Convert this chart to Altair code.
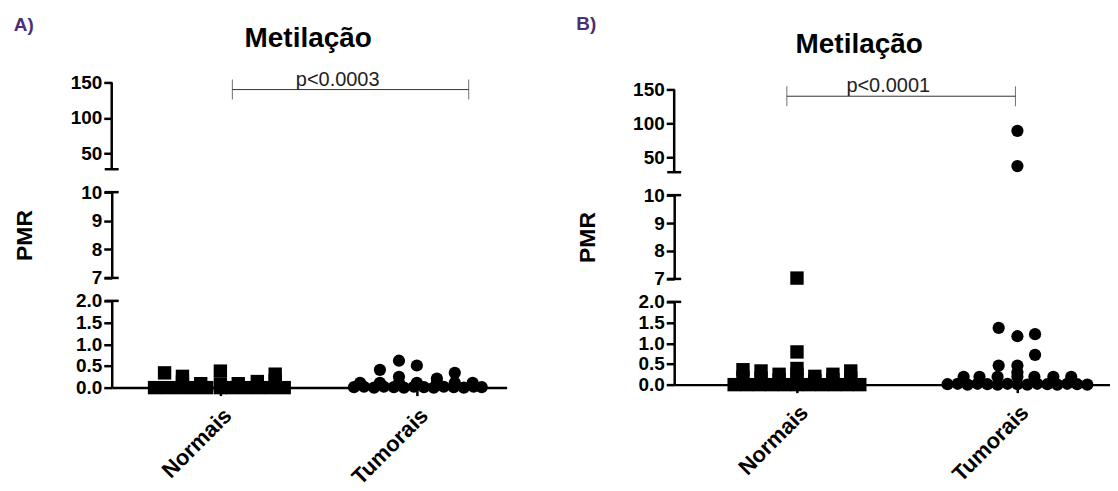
import altair as alt
import pandas as pd

# ---------------- data ----------------
# x = category position (1 = Normais, 2 = Tumorais) + horizontal scatter offset
# Panel A
a_norm_x = [0.665, 0.731, 0.797, 0.863, 0.929, 1.0, 1.061, 1.127, 1.193, 1.259, 1.325,
            0.716, 0.807, 0.807, 0.90, 1.0, 1.0, 1.091, 1.188, 1.279, 1.279]
a_norm_y = [0.0, 0.0, 0.0, 0.0, 0.0, 0.0, 0.0, 0.0, 0.0, 0.0, 0.0,
            0.34, 0.26, 0.13, 0.09, 0.38, 0.07, 0.09, 0.14, 0.31, 0.16]
a_tum_x = [1.680, 1.731, 1.782, 1.832, 1.883, 1.934, 1.985, 2.036, 2.086, 2.137, 2.188, 2.239, 2.289, 2.330,
           1.711, 1.812, 1.909, 2.0, 2.102, 2.193, 2.284,
           1.812, 1.909, 1.909, 2.0, 2.102, 2.193]
a_tum_y = [0.01, 0.02, 0.0, 0.02, 0.01, 0.0, 0.02, 0.01, 0.0, 0.02, 0.01, 0.0, 0.02, 0.01,
           0.11, 0.11, 0.11, 0.11, 0.11, 0.11, 0.11,
           0.41, 0.62, 0.25, 0.51, 0.21, 0.34]

# Panel B
b_norm_x = [0.715, 0.772, 0.829, 0.886, 0.943, 1.0, 1.057, 1.114, 1.171, 1.228, 1.285,
            0.755, 0.755, 0.837, 0.837, 0.919, 0.919, 1.0, 1.0, 1.0, 1.0, 1.0,
            1.081, 1.081, 1.163, 1.163, 1.244, 1.244]
b_norm_y = [0.0, 0.0, 0.0, 0.0, 0.0, 0.0, 0.0, 0.0, 0.0, 0.0, 0.0,
            0.36, 0.18, 0.33, 0.16, 0.25, 0.12, 7.03, 0.79, 0.39, 0.25, 0.12,
            0.20, 0.10, 0.25, 0.12, 0.33, 0.16]
b_tum_x = [1.683, 1.729, 1.774, 1.819, 1.864, 1.910, 1.955, 2.0, 2.045, 2.090, 2.136, 2.181, 2.226, 2.271, 2.317,
           1.756, 1.828, 1.910, 2.0, 2.077, 2.163, 2.244,
           1.915, 2.0, 2.08, 2.08, 1.915, 2.0, 2.0, 2.0, 2.0]
b_tum_y = [0.01, 0.02, 0.0, 0.02, 0.01, 0.0, 0.02, 0.01, 0.0, 0.02, 0.01, 0.0, 0.02, 0.01, 0.0,
           0.19, 0.19, 0.19, 0.19, 0.19, 0.19, 0.19,
           1.37, 1.17, 1.22, 0.72, 0.46, 0.46, 0.30, 89.0, 37.0]

categories = ["Normais", "Tumorais"]
p_labels = {"A": "p<0.0003", "B": "p<0.0001"}
bracket = {"A": [1.061, 2.264], "B": [0.954, 1.991]}
p_text_x = {"A": 1.597, "B": 1.414}
bracket_y = 140
axis_span_top = [28, 150]
break_caps = {"top": [28], "mid": [10, 7], "bot": [2]}

FONT = "Liberation Sans"

segments = {
    "top": dict(values=[50, 100, 150], fmt="d"),
    "mid": dict(domain=[7, 10], values=[7, 8, 9, 10], fmt="d"),
    "bot": dict(domain=[0, 2], values=[0, 0.5, 1.0, 1.5, 2.0], fmt=".1f"),
}

panel_cfg = {
    "A": dict(xdom=[0.447, 2.457], width=396, top_domain=[28, 150],
              heights={"top": 87, "mid": 86, "bot": 87},
              norm=(a_norm_x, a_norm_y), tum=(a_tum_x, a_tum_y),
              title_dx=-1, label_offset=-10),
    "B": dict(xdom=[0.443, 2.42], width=437, top_domain=[28, 160.3],
              heights={"top": 90, "mid": 84, "bot": 83},
              norm=(b_norm_x, b_norm_y), tum=(b_tum_x, b_tum_y),
              title_dx=-33, label_offset=-3),
}


def segment(panel, seg):
    cfg = panel_cfg[panel]
    s = segments[seg]
    lo, hi = cfg["top_domain"] if seg == "top" else s["domain"]
    if seg == "bot":
        xaxis = alt.Axis(values=[1, 2],
                         labelExpr="datum.value == 1 ? '" + categories[0] + "' : '" + categories[1] + "'",
                         labelAngle=-45, labelFontSize=22, labelPadding=9,
                         tickSize=8, title=None, grid=False)
    else:
        xaxis = None
    xenc = alt.X("x:Q", scale=alt.Scale(domain=cfg["xdom"]), axis=xaxis)
    yaxis = alt.Axis(values=s["values"], format=s["fmt"], grid=False,
                     domain=(seg != "top"),
                     title="PMR" if seg == "mid" else None,
                     titleFontSize=23, titleFont=FONT, titleFontWeight="bold",
                     titlePadding=44)
    yenc = alt.Y("y:Q", scale=alt.Scale(domain=[lo, hi]), axis=yaxis)

    layers = []
    nx, ny = cfg["norm"]
    tx, ty = cfg["tum"]
    dn = pd.DataFrame({"x": nx, "y": ny})
    dn = dn[(dn.y >= lo) & (dn.y <= hi)]
    dt = pd.DataFrame({"x": tx, "y": ty})
    dt = dt[(dt.y >= lo) & (dt.y <= hi)]
    caps = pd.DataFrame({"y": break_caps[seg]})
    layers.append(alt.Chart(caps).mark_rule(color="black", strokeWidth=2.5)
                  .encode(y=yenc, x=alt.value(-7), x2=alt.value(7)))
    if seg == "top":
        ax = pd.DataFrame({"y": [axis_span_top[0]], "y2": [axis_span_top[1]]})
        layers.append(alt.Chart(ax).mark_rule(color="black", strokeWidth=2.5)
                      .encode(y=yenc, y2="y2:Q", x=alt.value(0)))
    if len(dn):
        layers.append(alt.Chart(dn).mark_point(shape="square", filled=True, size=180,
                                               color="black", opacity=1)
                      .encode(x=xenc, y=yenc))
    if len(dt):
        layers.append(alt.Chart(dt).mark_circle(size=150, color="black", opacity=1)
                      .encode(x=xenc, y=yenc))
    if seg == "top":
        br = pd.DataFrame({"x": [bracket[panel][0]], "x2": [bracket[panel][1]], "y": [bracket_y]})
        layers.append(alt.Chart(br).mark_rule(color="#333333", strokeWidth=1)
                      .encode(x=xenc, x2="x2:Q", y=yenc))
        bt = pd.DataFrame({"x": bracket[panel], "y": [bracket_y, bracket_y]})
        layers.append(alt.Chart(bt).mark_tick(orient="vertical", size=20, thickness=1,
                                              color="#333333")
                      .encode(x=xenc, y=yenc))
        pt = pd.DataFrame({"x": [p_text_x[panel]], "y": [bracket_y], "t": [p_labels[panel]]})
        layers.append(alt.Chart(pt).mark_text(font=FONT, fontSize=20, color="#222222",
                                              baseline="alphabetic", dy=-4)
                      .encode(x=xenc, y=yenc, text="t:N"))
    ch = alt.layer(*layers).properties(width=cfg["width"], height=cfg["heights"][seg])
    if seg == "top":
        ch = ch.properties(title=alt.TitleParams("Metilação", font=FONT, fontSize=28,
                                                 fontWeight="bold", anchor="middle",
                                                 frame="group", dx=cfg["title_dx"],
                                                 offset=17, color="black"))
    return ch


def panel(p):
    cfg = panel_cfg[p]
    return alt.vconcat(segment(p, "top"), segment(p, "mid"), segment(p, "bot"),
                       spacing=23, bounds="flush").properties(
        title=alt.TitleParams(p + ")", anchor="start", font=FONT, fontSize=19,
                              fontWeight="bold", color="#4b2f73",
                              offset=cfg["label_offset"]))


chart = alt.hconcat(panel("A"), panel("B"), spacing=69).properties(
    padding={"left": 5, "top": 6, "right": 0, "bottom": 0}
).configure_view(stroke=None).configure_axis(
    labelFont=FONT, labelFontWeight="bold", labelFontSize=19, labelColor="black",
    domainColor="black", domainWidth=2.5, tickColor="black", tickWidth=2.5,
    tickSize=8, labelPadding=2
).configure_title(font=FONT)

chart.save("out.html", embed_options={"renderer": "svg", "actions": False})
